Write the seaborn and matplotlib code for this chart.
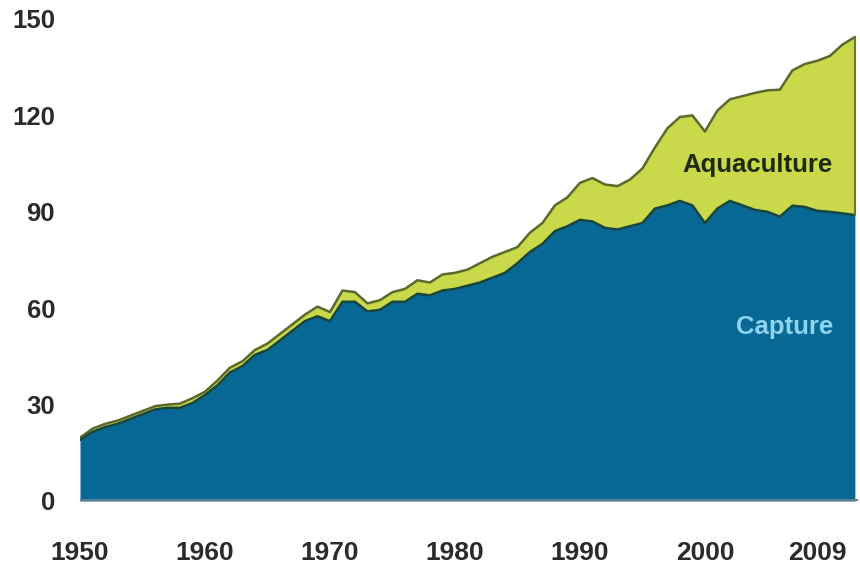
import numpy as np
import pandas as pd
import matplotlib
matplotlib.use("Agg")
import matplotlib.pyplot as plt
import seaborn as sns

years = list(range(1950, 2013))
capture = [19.0, 21.5, 23.0, 24.0, 25.5, 27.0, 28.5, 29.0, 29.0, 30.5,
           33.0, 36.0, 40.0, 42.0, 45.5, 47.0, 50.0, 53.0, 56.0, 57.5,
           56.0, 62.0, 62.0, 59.0, 59.5, 62.0, 62.0, 64.5, 64.0, 65.5,
           66.0, 67.0, 68.0, 69.5, 71.0, 74.0, 77.5, 80.0, 84.0, 85.5,
           87.5, 87.0, 85.0, 84.5, 85.5, 86.5, 91.0, 92.0, 93.4, 92.0,
           86.5, 91.0, 93.4, 92.0, 90.6, 90.0, 88.5, 91.9, 91.5, 90.3,
           90.0, 89.5, 89.0]
total = [19.7, 22.5, 24.0, 25.0, 26.5, 28.0, 29.5, 30.0, 30.3, 32.0,
         34.0, 37.5, 41.5, 43.5, 47.0, 49.0, 52.0, 55.0, 58.0, 60.5,
         58.8, 65.5, 65.0, 61.5, 62.5, 65.0, 66.0, 68.7, 68.0, 70.5,
         71.0, 72.0, 74.0, 76.0, 77.5, 79.0, 83.5, 86.5, 92.0, 94.5,
         99.0, 100.5, 98.5, 98.0, 100.0, 103.5, 110.0, 116.0, 119.5, 120.0,
         115.0, 121.5, 125.0, 126.0, 127.0, 127.8, 128.0, 134.0, 136.0, 137.0,
         138.5, 142.0, 144.4]
aquaculture = [t - c for t, c in zip(total, capture)]

yticks = [0, 30, 60, 90, 120, 150]
xticks = [1950, 1960, 1970, 1980, 1990, 2000, 2009]
xticklabels = ["1950", "1960", "1970", "1980", "1990", "2000", "2009"]

df = pd.DataFrame({"year": years, "Capture": capture,
                   "Aquaculture": aquaculture})
df["Total"] = df["Capture"] + df["Aquaculture"]

sns.set_theme(style="white")
plt.rcParams["font.family"] = ["Liberation Sans", "DejaVu Sans"]

fig = plt.figure(figsize=(8.6, 5.67), dpi=100)
ax = fig.add_axes([80 / 860, 66 / 567, 778 / 860, 482 / 567])

blue = "#086895"
green = "#c9d94a"
ax.stackplot(df["year"], df["Capture"], df["Aquaculture"],
             colors=[blue, green], linewidth=0)
sns.lineplot(data=df, x="year", y="Total", ax=ax, color="#5b6a2c",
             linewidth=1.8)
sns.lineplot(data=df, x="year", y="Capture", ax=ax, color="#17453f",
             linewidth=1.8)
last = df.iloc[-1]
ax.plot([last["year"], last["year"]], [last["Capture"], last["Total"]],
        color="#6b7a30", linewidth=1.5)
ax.axhline(0, color="#5a7e96", linewidth=3, zorder=5)

ax.set_xlim(1950, 2012.25)
ax.set_ylim(0, 150)
ax.set_xticks(xticks)
ax.set_xticklabels(xticklabels)
ax.set_yticks(yticks)
ax.set_xlabel("")
ax.set_ylabel("")
for s in ax.spines.values():
    s.set_visible(False)
ax.tick_params(axis="x", length=0, pad=29, labelsize=19, labelcolor="#2b2b2b")
ax.tick_params(axis="y", length=0, pad=18, labelsize=18.5, labelcolor="#2b2b2b")
for lab in ax.get_xticklabels() + ax.get_yticklabels():
    lab.set_fontweight("bold")

ax.text(2010.25, 104.6, "Aquaculture", ha="right", va="center",
        fontsize=18.5, fontweight="bold", color="#1d2a0e")
ax.text(2010.25, 54.2, "Capture", ha="right", va="center",
        fontsize=18.5, fontweight="bold", color="#8dd4ef")

fig.savefig("out.png", dpi=100)
